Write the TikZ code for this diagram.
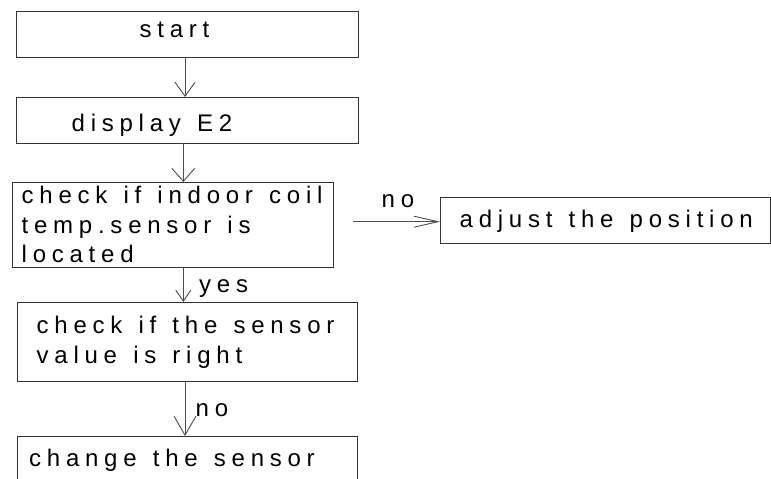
\documentclass[tikz,border=0pt]{standalone}
\usepackage{fontspec}
\setmainfont{Liberation Sans}[LetterSpace=24,WordSpace=1.3]
\usetikzlibrary{arrows.meta}
\begin{document}
\begin{tikzpicture}[x=1pt,y=-1pt,
  box/.style={draw=black!80,line width=0.9pt,inner sep=0pt,outer sep=0pt,anchor=north west},
  txt/.style={inner sep=0pt,anchor=base west,font=\fontsize{24}{29}\selectfont,text=black},
  arr/.style={draw=black!70,line width=0.9pt}
]
\useasboundingbox (0,0) rectangle (771,479);
% boxes
\node[box,minimum width=342pt,minimum height=46pt] (b1) at (16,11) {};
\node[box,minimum width=342pt,minimum height=46pt] (b2) at (16,97) {};
\node[box,minimum width=321pt,minimum height=85pt] (b3) at (12,182) {};
\node[box,minimum width=340pt,minimum height=79pt] (b4) at (17,302) {};
\node[box,minimum width=340pt,minimum height=70pt] (b5) at (17,436) {};
\node[box,minimum width=330pt,minimum height=46pt] (b6) at (440,197) {};
% texts
\node[txt] (t1) at (139.5,37.5) {start};
\node[txt] (t2) at (71.5,131.7) {display E2};
\node[txt] (t3a) at (21.5,203.3) {check if indoor coil};
\node[txt] (t3b) at (21.5,233) {temp.sensor is};
\node[txt] (t3c) at (21.5,262) {located};
\node[txt] (t4a) at (36.5,333.3) {check if the sensor};
\node[txt] (t4b) at (36.5,363.3) {value is right};
\node[txt] (t5) at (29,466.7) {change the sensor};
\node[txt] (t6) at (459.5,227.3) {adjust the position};
\node[txt] (l1) at (381.5,207.3) {no};
\node[txt] (l2) at (199,292.5) {yes};
\node[txt] (l3) at (195.5,416.7) {no};
% connector positions
\coordinate (x1) at (185,0);
\coordinate (x2) at (183.3,0);
\coordinate (n0) at (353,221.7);
% connectors
\draw[arr,-{Straight Barb[length=14pt,width=20pt]}] (b1.south -| x1) -- (b2.north -| x1);
\draw[arr,-{Straight Barb[length=13pt,width=23pt]}] (b2.south -| x2) -- (b3.north -| x2);
\draw[arr,-{Straight Barb[length=11pt,width=15pt]}] (b3.south -| x2) -- (b4.north -| x2);
\draw[arr,-{Straight Barb[length=19pt,width=22pt]}] (b4.south -| x1) -- (b5.north -| x1);
\draw[arr,-{Straight Barb[length=24pt,width=11pt]}] (n0) -- (n0 -| b6.west);
\end{tikzpicture}
\end{document}
